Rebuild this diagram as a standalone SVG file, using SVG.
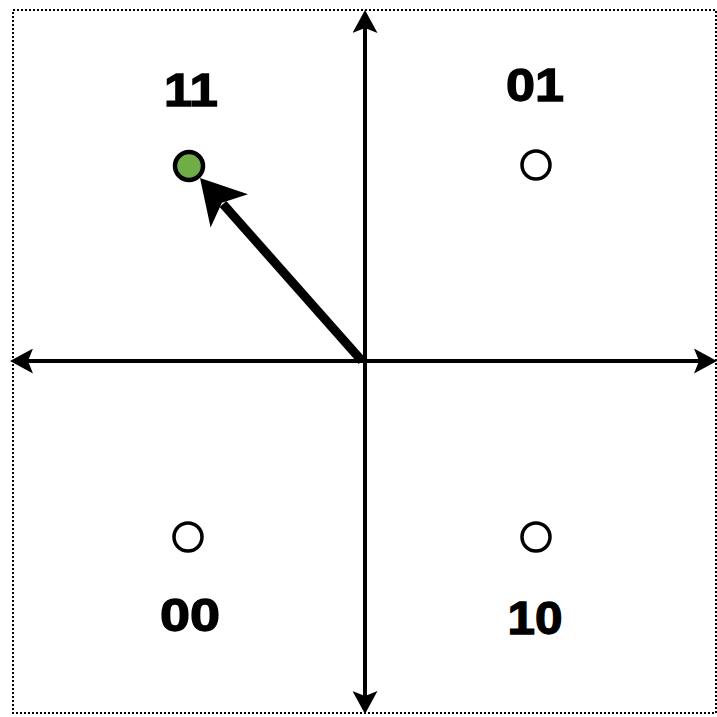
<svg xmlns="http://www.w3.org/2000/svg" width="717" height="717" viewBox="0 0 717 717">
<style>
.lbl{font-family:"Liberation Sans",Arial,sans-serif;font-weight:bold;font-size:46px;fill:#000;stroke:#000;stroke-width:1.3;text-anchor:middle}
.pt{fill:#fff;stroke:#000;stroke-width:3.5}
.axis{stroke:#000;stroke-width:4;fill:none}
</style>
<defs>
<marker id="ah" viewBox="0 0 23 25" refX="5" refY="12.5" markerWidth="23" markerHeight="25" markerUnits="userSpaceOnUse" orient="auto-start-reverse">
<path d="M0,0 L23,12.5 L0,25 L5,12.5 Z" fill="#000"/>
</marker>
</defs>
<rect x="13" y="10" width="703" height="703" fill="#fff" stroke="#000" stroke-width="2" stroke-dasharray="2 2"/>
<g id="connectors">
<line class="axis" x1="28" y1="361" x2="699" y2="361" marker-start="url(#ah)" marker-end="url(#ah)"/>
<line class="axis" x1="365" y1="28" x2="365" y2="696" marker-start="url(#ah)" marker-end="url(#ah)"/>
<line x1="362" y1="361" x2="223" y2="204" stroke="#000" stroke-width="9"/>
<path d="M200,178 L248,194.3 L221.9,202.7 L210.6,227.5 Z" fill="#000"/>
</g>
<g id="node-11">
<circle cx="189" cy="166" r="14" fill="#70AD47" stroke="#000" stroke-width="4.5"/>
<text class="lbl" x="191" y="106" textLength="54" lengthAdjust="spacingAndGlyphs">11</text>
</g>
<g id="node-01">
<circle class="pt" cx="536" cy="165" r="14"/>
<text class="lbl" x="535" y="101" textLength="58" lengthAdjust="spacingAndGlyphs">01</text>
</g>
<g id="node-00">
<circle class="pt" cx="188" cy="537" r="14"/>
<text class="lbl" x="190" y="631" textLength="60" lengthAdjust="spacingAndGlyphs">00</text>
</g>
<g id="node-10">
<circle class="pt" cx="536" cy="537" r="14"/>
<text class="lbl" x="535" y="634" textLength="55" lengthAdjust="spacingAndGlyphs">10</text>
</g>
</svg>
